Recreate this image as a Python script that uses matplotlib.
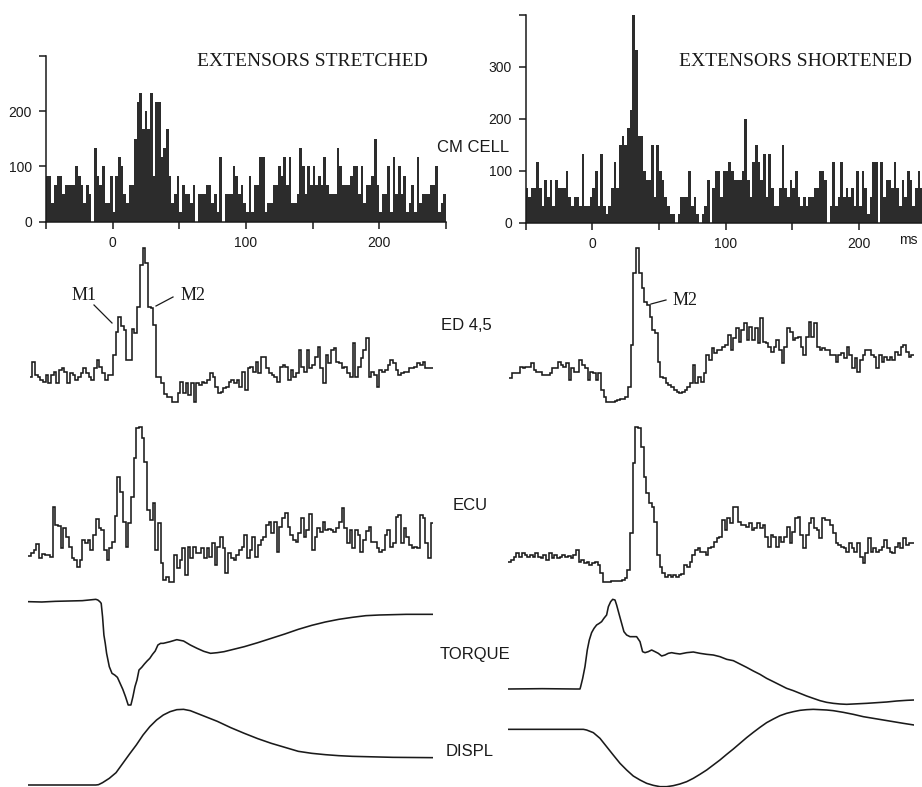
import numpy as np
import matplotlib
matplotlib.use("Agg")
import matplotlib.pyplot as plt
from matplotlib.lines import Line2D

# ---------------- DATA ----------------
t_range = (-50, 250)          # ms, common time base
bin_ms = 2                    # histogram bin width (ms)

# CM cell post-spike histograms (spikes/s), 2-ms bins from -50 to 250 ms
cm_stretched = [
    83, 83, 33, 67, 83, 83, 50, 67, 67, 67,
    67, 100, 83, 67, 33, 67, 50, 0, 133, 83,
    67, 100, 33, 33, 83, 17, 83, 117, 100, 50,
    33, 67, 67, 150, 217, 233, 167, 200, 167, 233,
    83, 217, 217, 117, 133, 167, 83, 33, 50, 83,
    17, 67, 50, 50, 33, 67, 0, 50, 50, 50,
    67, 67, 33, 50, 17, 117, 0, 50, 50, 50,
    100, 83, 50, 67, 33, 17, 83, 17, 67, 67,
    117, 117, 17, 33, 33, 67, 67, 100, 83, 117,
    67, 117, 33, 33, 50, 133, 100, 50, 100, 67,
    100, 67, 83, 67, 117, 67, 50, 50, 50, 133,
    100, 67, 67, 67, 83, 100, 100, 50, 100, 33,
    67, 67, 83, 150, 67, 17, 50, 50, 100, 17,
    117, 50, 100, 50, 83, 17, 33, 67, 17, 117,
    33, 50, 50, 50, 67, 67, 100, 17, 33, 50]

cm_shortened = [
    67, 50, 67, 67, 117, 67, 33, 83, 50, 83,
    33, 83, 67, 67, 67, 100, 50, 33, 50, 50,
    33, 133, 33, 33, 50, 67, 100, 33, 133, 33,
    17, 33, 67, 117, 67, 150, 167, 150, 183, 217,
    400, 333, 167, 167, 100, 83, 83, 150, 50, 150,
    100, 83, 50, 33, 17, 17, 0, 17, 50, 50,
    50, 100, 33, 50, 17, 0, 17, 33, 83, 0,
    67, 100, 100, 50, 100, 100, 117, 100, 83, 83,
    83, 100, 200, 83, 50, 117, 150, 117, 83, 133,
    50, 133, 67, 33, 33, 67, 150, 67, 50, 83,
    67, 100, 50, 33, 50, 33, 50, 50, 67, 67,
    100, 100, 83, 0, 33, 117, 33, 50, 117, 50,
    67, 50, 67, 33, 100, 33, 100, 67, 17, 50,
    117, 117, 0, 117, 50, 83, 83, 67, 117, 67,
    33, 83, 50, 100, 83, 33, 67, 100, 67, 50]

# Rectified EMG averages (arbitrary units), 150 equal bins over -50..250 ms
ed45_stretched = [
    90, 135, 95, 90, 80, 75, 95, 70, 95, 105,
    70, 110, 115, 105, 70, 100, 95, 80, 90, 100,
    115, 100, 90, 80, 115, 140, 120, 100, 80, 95,
    95, 155, 225, 270, 242, 230, 140, 140, 232, 220,
    300, 425, 475, 430, 300, 295, 245, 90, 90, 70,
    38, 30, 30, 15, 15, 40, 75, 40, 70, 35,
    70, 15, 70, 65, 75, 70, 80, 100, 90, 60,
    40, 45, 55, 60, 75, 80, 70, 80, 60, 105,
    50, 115, 120, 105, 135, 100, 150, 150, 115, 100,
    95, 90, 75, 120, 125, 120, 80, 110, 90, 100,
    170, 120, 105, 170, 115, 125, 150, 180, 115, 70,
    155, 130, 170, 175, 135, 130, 115, 120, 100, 90,
    190, 90, 120, 145, 170, 205, 90, 105, 95, 60,
    110, 105, 110, 125, 140, 130, 110, 95, 100, 105,
    105, 115, 115, 120, 130, 125, 135, 115, 115, 115]

ed45_shortened = [
    85, 100, 100, 100, 120, 115, 120, 120, 130, 110,
    105, 105, 95, 95, 95, 100, 115, 115, 135, 125,
    120, 130, 80, 115, 105, 105, 140, 125, 115, 80,
    105, 100, 80, 100, 50, 30, 15, 15, 15, 18,
    20, 22, 22, 30, 60, 185, 400, 475, 400, 355,
    315, 305, 270, 230, 220, 135, 90, 85, 70, 65,
    60, 50, 45, 40, 45, 50, 60, 70, 125, 70,
    90, 75, 100, 155, 140, 175, 160, 170, 170, 180,
    185, 215, 170, 205, 235, 195, 230, 250, 200, 240,
    200, 235, 190, 265, 195, 190, 180, 165, 180, 200,
    170, 130, 180, 235, 225, 200, 205, 210, 180, 155,
    210, 255, 210, 250, 180, 170, 175, 170, 170, 155,
    155, 135, 155, 160, 145, 180, 155, 115, 145, 105,
    140, 155, 170, 170, 155, 150, 115, 155, 135, 150,
    140, 150, 140, 165, 155, 180, 185, 165, 150, 155]

ecu_stretched = [
    92, 100, 110, 128, 85, 98, 95, 95, 90, 240,
    185, 182, 115, 175, 150, 120, 85, 80, 60, 80,
    140, 130, 140, 110, 155, 202, 175, 170, 110, 80,
    115, 135, 212, 330, 285, 195, 120, 190, 270, 385,
    475, 480, 445, 375, 230, 200, 252, 110, 190, 70,
    20, 30, 15, 15, 95, 55, 80, 115, 35, 120,
    85, 120, 100, 100, 115, 85, 115, 90, 130, 65,
    120, 150, 115, 40, 100, 85, 80, 95, 110, 120,
    155, 85, 110, 150, 90, 125, 140, 150, 185, 195,
    160, 195, 105, 180, 205, 220, 180, 155, 140, 135,
    160, 205, 150, 170, 218, 110, 150, 175, 165, 195,
    170, 172, 170, 165, 175, 195, 235, 175, 130, 170,
    115, 170, 155, 105, 140, 168, 180, 135, 135, 115,
    105, 110, 155, 170, 120, 130, 210, 215, 130, 175,
    150, 125, 115, 120, 115, 215, 205, 130, 85, 190]

ecu_shortened = [
    75, 80, 90, 100, 88, 102, 95, 90, 95, 90,
    100, 90, 85, 95, 80, 100, 85, 95, 85, 90,
    95, 90, 92, 85, 95, 110, 75, 80, 70, 75,
    65, 70, 75, 65, 40, 15, 15, 15, 17, 17,
    17, 18, 20, 25, 50, 160, 370, 480, 475, 420,
    330, 280, 250, 240, 195, 95, 60, 40, 30, 35,
    30, 35, 30, 35, 38, 65, 60, 75, 95, 110,
    115, 105, 105, 95, 115, 120, 135, 145, 150, 200,
    170, 205, 190, 240, 240, 195, 185, 185, 180, 190,
    170, 175, 190, 175, 185, 150, 120, 155, 150, 120,
    150, 135, 150, 180, 130, 165, 205, 210, 155, 115,
    155, 190, 205, 175, 170, 145, 205, 200, 200, 185,
    160, 130, 125, 120, 115, 105, 130, 115, 105, 130,
    90, 70, 100, 145, 105, 115, 105, 110, 120, 140,
    115, 105, 100, 120, 130, 115, 145, 125, 130, 130]

# Wrist torque and displacement (arbitrary units) sampled at irregular times (ms)
torque_str_t = [-50, -40, -30, -20, -10, -5, 0, 1.5, 3, 4, 5, 6, 7, 8, 9, 10, 12, 14, 16,
                18, 20, 22, 24, 26, 27.5, 29, 30.5, 32, 34, 36, 38, 40, 42, 44, 46, 48, 50,
                55, 60, 65, 70, 75, 80, 85, 90, 95, 100, 110, 120, 130, 140, 150, 160, 170,
                180, 190, 200, 210, 220, 230, 240, 250]
torque_str_v = [565, 564, 566, 567, 568, 570, 572, 570, 565, 560, 520, 465, 440, 410, 390,
                370, 350, 345, 338, 320, 302, 280, 255, 255, 280, 310, 330, 360, 368, 378,
                387, 395, 407, 417, 435, 440, 440, 445, 451, 447, 435, 425, 416, 410, 412,
                415, 420, 430, 442, 455, 468, 482, 494, 504, 512, 518, 523, 525, 526, 527,
                527, 527]

displ_str_t = [-50, -25, 0, 2, 5, 10, 15, 20, 25, 30, 35, 40, 45, 50, 55, 60, 65, 70, 75,
               80, 90, 100, 110, 120, 130, 140, 150, 160, 170, 180, 190, 200, 220, 250]
displ_str_v = [15, 15, 15, 16, 22, 35, 52, 80, 108, 135, 165, 190, 210, 225, 235, 241, 242,
               238, 230, 222, 206, 187, 170, 154, 140, 128, 116, 110, 106, 103, 101, 100,
               98, 97]

torque_sho_t = [-50, -25, 0, 3, 3.5, 5, 6.7, 8.4, 9.9, 11.6, 13.4, 15.3, 17.3, 19, 20.7,
                22.7, 24, 25.7, 27.2, 28.9, 30.1, 32.1, 33.8, 35.5, 37.5, 40, 42.4, 44.9,
                47.4, 49.3, 51.1, 53.5, 56, 58.5, 60.9, 63.4, 65.9, 68.3, 70.8, 73.3, 76.9,
                81.9, 86.8, 91.7, 96.7, 101.6, 106.5, 111.5, 116.4, 121.3, 126.2, 131.2,
                136.1, 141, 146, 150.9, 155.8, 160.8, 165.7, 170.6, 175.5, 180.5, 185.4,
                190.3, 195.3, 200.2, 205.1, 210, 215, 222.4, 229.8, 237.2, 244.6, 250]
torque_sho_v = [303, 304, 303, 303, 310, 335, 370, 420, 450, 472, 485, 495, 500, 505, 515,
                525, 550, 565, 572, 570, 555, 525, 500, 475, 465, 460, 460, 460, 445, 415,
                412, 415, 420, 415, 410, 402, 405, 410, 412, 410, 408, 412, 414, 410, 407,
                405, 400, 392, 388, 378, 368, 357, 347, 335, 325, 315, 305, 298, 290, 282,
                275, 268, 263, 260, 258, 257, 258, 259, 260, 262, 264, 267, 269, 270]

displ_sho_t = [-50, 5.5, 7.9, 12.9, 17.8, 22.7, 27.6, 32.6, 37.5, 42.4, 47.4, 52.3, 57.2,
               62.2, 67.1, 72, 76.9, 81.9, 86.8, 91.7, 96.7, 101.6, 106.5, 111.5, 116.4,
               121.3, 126.2, 131.2, 136.1, 141, 146, 150.9, 155.8, 160.8, 165.7, 170.6,
               175.5, 180.5, 185.4, 190.3, 197.7, 205.1, 212.5, 219.9, 227.3, 234.7, 242.1,
               250]
displ_sho_v = [182, 182, 180, 172, 155, 130, 105, 80, 60, 42, 30, 20, 14, 10, 10, 13, 18,
               25, 35, 47, 60, 75, 90, 107, 123, 140, 157, 173, 188, 202, 213, 223, 230,
               235, 239, 241, 242, 241, 240, 238, 233, 227, 220, 215, 210, 205, 200, 195]

hist_xticks = [-50, 0, 50, 100, 150, 200, 250]
hist_xticklabels = ["", "0", "", "100", "", "200", ""]
left_yticks = [0, 100, 200, 300]
left_yticklabels = ["0", "100", "200", ""]
right_yticks = [0, 100, 200, 300, 400]
right_yticklabels = ["0", "100", "200", "300", ""]

titles = ["EXTENSORS STRETCHED", "EXTENSORS SHORTENED"]
row_labels = ["CM CELL", "ED 4,5", "ECU", "TORQUE", "DISPL"]

# ---------------- FIGURE ----------------
W, H = 922, 787
fig = plt.figure(figsize=(W / 100, H / 100), dpi=100)
fig.patch.set_facecolor("white")

INK = "#1a1a1a"
FILL = "#2c2c2c"
SANS = ["Liberation Sans", "DejaVu Sans"]
SERIF = ["Liberation Serif", "DejaVu Serif"]


def rect(x0, y0, x1, y1):
    return [x0 / W, 1 - y1 / H, (x1 - x0) / W, (y1 - y0) / H]


def fx(x):
    return x / W


def fy(y):
    return 1 - y / H


def hist_axes(box, values, ylim, yticks, yticklabels):
    ax = fig.add_axes(box)
    edges = np.arange(t_range[0], t_range[0] + bin_ms * (len(values) + 1), bin_ms)
    ax.stairs(values, edges, fill=True, color=FILL, linewidth=0)
    ax.set_xlim(*t_range)
    ax.set_ylim(*ylim)
    for s in ("top", "right"):
        ax.spines[s].set_visible(False)
    for s in ("left", "bottom"):
        ax.spines[s].set_linewidth(1.1)
        ax.spines[s].set_color(INK)
    ax.set_xticks(hist_xticks)
    ax.set_xticklabels(hist_xticklabels)
    ax.set_yticks(yticks)
    ax.set_yticklabels(yticklabels)
    ax.tick_params(direction="out", length=5, width=1.1, color=INK,
                   labelsize=10, labelcolor=INK, pad=5)
    for lab in ax.get_xticklabels() + ax.get_yticklabels():
        lab.set_family(SANS)
    ax.patch.set_alpha(0)
    return ax


hist_axes(rect(46, 55.8, 446, 221.7), cm_stretched, (0, 300), left_yticks, left_yticklabels)
hist_axes(rect(525.7, 14.7, 925.7, 222.7), cm_shortened, (0, 400), right_yticks,
          right_yticklabels)


def trace_axes(box, ylim):
    ax = fig.add_axes(box)
    ax.set_xlim(*t_range)
    ax.set_ylim(*ylim)
    ax.axis("off")
    ax.patch.set_alpha(0)
    return ax


def emg(ax, values):
    edges = np.linspace(t_range[0], t_range[1], len(values) + 1)
    ax.stairs(values, edges, baseline=None, color=INK, linewidth=1.15)


a = trace_axes(rect(29.5, 240, 433.3, 406.7), (0, 500)); emg(a, ed45_stretched)
a = trace_axes(rect(509.3, 240, 914, 406.7), (0, 500)); emg(a, ed45_shortened)
a = trace_axes(rect(28.3, 420, 433.3, 586.7), (0, 500)); emg(a, ecu_stretched)
a = trace_axes(rect(508.3, 420, 914, 586.7), (0, 500)); emg(a, ecu_shortened)

a = trace_axes(rect(28.3, 590, 433.3, 787), (9, 600))
a.plot(torque_str_t, torque_str_v, color=INK, lw=1.15)
a.plot(displ_str_t, displ_str_v, color=INK, lw=1.15)
a = trace_axes(rect(508.3, 590, 914, 787), (9, 600))
a.plot(torque_sho_t, torque_sho_v, color=INK, lw=1.15)
a.plot(displ_sho_t, displ_sho_v, color=INK, lw=1.15)

# titles
fig.text(fx(312.5), fy(62), titles[0], family=SERIF, fontsize=14, color=INK,
         ha="center", va="center")
fig.text(fx(795.5), fy(62), titles[1], family=SERIF, fontsize=14, color=INK,
         ha="center", va="center")

# row labels
label_pos = [(437, 147), (441, 325), (453, 506), (440, 655), (446, 751)]
for text, (x, y) in zip(row_labels, label_pos):
    fig.text(fx(x), fy(y), text, family=SANS, fontsize=12, color=INK,
             ha="left", va="center")

fig.text(fx(908), fy(240), "ms", family=SANS, fontsize=10, color=INK,
         ha="center", va="center")

# M1 / M2 annotations
fig.text(fx(72), fy(295), "M1", family=SERIF, fontsize=13, color=INK, ha="left", va="center")
fig.text(fx(181), fy(295), "M2", family=SERIF, fontsize=13, color=INK, ha="left", va="center")
fig.text(fx(673), fy(300), "M2", family=SERIF, fontsize=13, color=INK, ha="left", va="center")
for (x0, y0, x1, y1) in [(94, 305, 112, 323), (173, 297, 156, 306), (666, 300, 651, 304)]:
    fig.add_artist(Line2D([fx(x0), fx(x1)], [fy(y0), fy(y1)], color=INK, lw=0.9,
                          transform=fig.transFigure))

fig.savefig("out.png", dpi=100, facecolor="white")
